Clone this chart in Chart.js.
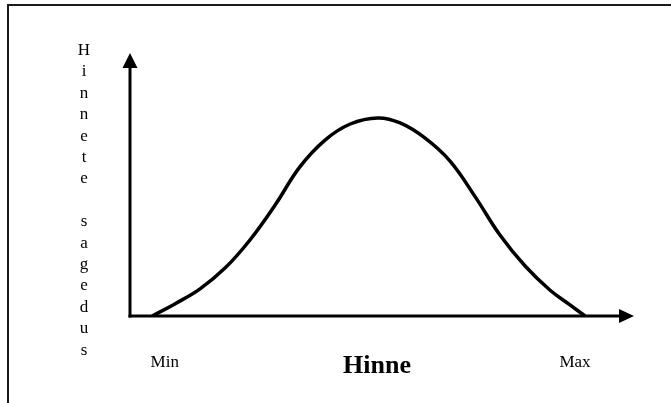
<!DOCTYPE html>
<html>
<head>
<meta charset="utf-8">
<script src="https://cdn.jsdelivr.net/npm/chart.js@4/dist/chart.umd.min.js"></script>
<style>
  html, body { margin: 0; padding: 0; background: #fff; }
  #wrap { width: 671px; height: 403px; position: relative; }
</style>
</head>
<body>
<div id="wrap"><canvas id="c" width="671" height="403"></canvas></div>
<script>
// ---- data ----
const xValues = [4.4, 8.9, 13.9, 18.9, 23.8, 28.8, 33.7, 38.7, 43.7, 49.2, 53.6, 58.5, 63.5, 68.5, 73.4, 78.4, 83.3, 87.3, 90.3];
const yValues = [0, 4.6, 10.3, 18.3, 28.9, 42.2, 56.7, 66.9, 73.0, 75.3, 73.4, 67.7, 58.9, 45.3, 30.8, 19.0, 9.9, 4.2, 0];
const xTickLabels = ['Min', 'Max'];
const xTickValues = [6.9, 88.3];
const xTitle = 'Hinne';
const yTitle = 'Hinnete sagedus';

const points = xValues.map((x, i) => ({ x: x, y: yValues[i] }));

const decor = {
  id: 'decor',
  beforeDraw(chart) {
    const ctx = chart.ctx;
    ctx.save();
    ctx.fillStyle = '#fff';
    ctx.fillRect(0, 0, chart.width, chart.height);
    // outer frame (top and left visible)
    ctx.strokeStyle = '#1a1a1a';
    ctx.lineWidth = 2;
    ctx.beginPath();
    ctx.moveTo(8, chart.height + 2);
    ctx.lineTo(8, 5);
    ctx.lineTo(chart.width + 2, 5);
    ctx.stroke();
    ctx.restore();
  },
  afterDraw(chart) {
    const ctx = chart.ctx;
    const xs = chart.scales.x, ys = chart.scales.y;
    const x0 = xs.getPixelForValue(xs.min), x1 = xs.getPixelForValue(xs.max);
    const y0 = ys.getPixelForValue(ys.min), y1 = ys.getPixelForValue(ys.max);
    ctx.save();
    ctx.strokeStyle = '#000';
    ctx.fillStyle = '#000';
    ctx.lineWidth = 3;
    ctx.lineCap = 'butt';
    // y axis
    ctx.beginPath();
    ctx.moveTo(x0, y0 + 1.5);
    ctx.lineTo(x0, y1 + 12);
    ctx.stroke();
    ctx.beginPath();
    ctx.moveTo(x0, y1);
    ctx.lineTo(x0 - 7.5, y1 + 15);
    ctx.lineTo(x0 + 7.5, y1 + 15);
    ctx.closePath();
    ctx.fill();
    // x axis
    ctx.beginPath();
    ctx.moveTo(x0 - 1.5, y0);
    ctx.lineTo(x1 - 12, y0);
    ctx.stroke();
    ctx.beginPath();
    ctx.moveTo(x1, y0);
    ctx.lineTo(x1 - 15, y0 - 7);
    ctx.lineTo(x1 - 15, y0 + 7);
    ctx.closePath();
    ctx.fill();

    // x tick labels
    ctx.font = '17px "Liberation Serif", "Times New Roman", serif';
    ctx.textAlign = 'center';
    ctx.textBaseline = 'alphabetic';
    xTickLabels.forEach((t, i) => {
      ctx.fillText(t, xs.getPixelForValue(xTickValues[i]), y0 + 51);
    });
    // x title
    ctx.font = 'bold 26px "Liberation Serif", "Times New Roman", serif';
    ctx.fillText(xTitle, (x0 + x1) / 2 - 5, y0 + 57);
    // y title: stacked letters
    ctx.font = '17px "Liberation Serif", "Times New Roman", serif';
    const chars = Array.from(yTitle);
    chars.forEach((ch, i) => {
      if (ch !== ' ') ctx.fillText(ch, 84, 55 + i * 21.4);
    });
    ctx.restore();
  }
};

new Chart(document.getElementById('c'), {
  type: 'line',
  data: {
    datasets: [{
      data: points,
      borderColor: '#000',
      borderWidth: 3.5,
      pointRadius: 0,
      fill: false,
      tension: 0.4
    }]
  },
  options: {
    responsive: false,
    animation: false,
    devicePixelRatio: 1,
    layout: { padding: { left: 130, right: 37, top: 53, bottom: 87 } },
    plugins: { legend: { display: false }, tooltip: { enabled: false } },
    scales: {
      x: { type: 'linear', min: 0, max: 100, display: false },
      y: { type: 'linear', min: 0, max: 100, display: false }
    }
  },
  plugins: [decor]
});
</script>
</body>
</html>
